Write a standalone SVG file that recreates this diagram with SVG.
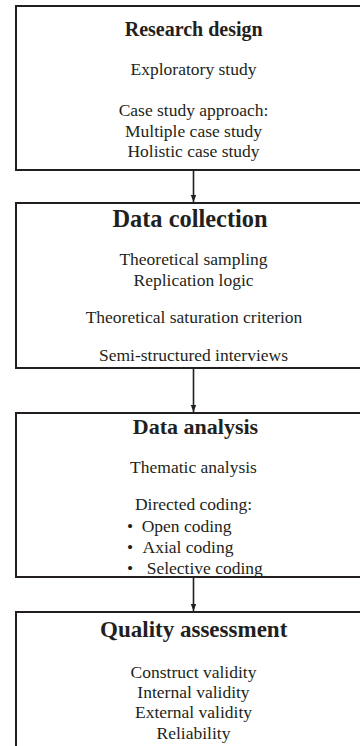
<svg xmlns="http://www.w3.org/2000/svg" width="360" height="746" viewBox="0 0 360 746">
<defs>
<marker id="arr" markerWidth="7" markerHeight="9" refX="9" refY="3.5" orient="auto" markerUnits="userSpaceOnUse" viewBox="0 0 9 7">
<path d="M0,0 L9,3.5 L0,7 Z" fill="#231f20"/>
</marker>
</defs>
<style>
.box{fill:#fff;stroke:#231f20;stroke-width:2}
.t{font-family:"Liberation Serif","Times New Roman",serif;fill:#231f20;text-anchor:middle}
.h{font-weight:bold}
.b{font-size:17.5px}
.bl{font-family:"Liberation Serif","Times New Roman",serif;fill:#231f20;font-size:17.5px}
.c{stroke:#231f20;stroke-width:1.6;fill:none}
</style>
<rect width="360" height="746" fill="#fff"/>
<g id="connectors">
<line class="c" x1="193.5" y1="170" x2="193.5" y2="202" marker-end="url(#arr)"/>
<line class="c" x1="193.5" y1="368" x2="193.5" y2="412" marker-end="url(#arr)"/>
<line class="c" x1="193.5" y1="577" x2="193.5" y2="611" marker-end="url(#arr)"/>
</g>
<g id="research-design">
<rect class="box" x="16" y="6" width="356" height="164"/>
<text class="t h" x="193.7" y="36" font-size="20">Research design</text>
<text class="t b" x="193.5" y="75">Exploratory study</text>
<text class="t b" x="193.5" y="116">Case study approach:</text>
<text class="t b" x="193.5" y="136.7">Multiple case study</text>
<text class="t b" x="193.5" y="156.7">Holistic case study</text>
</g>
<g id="data-collection">
<rect class="box" x="16" y="203" width="356" height="165"/>
<text class="t h" x="190" y="227.3" font-size="24.4">Data collection</text>
<text class="t b" x="193.5" y="265">Theoretical sampling</text>
<text class="t b" x="193.5" y="286">Replication logic</text>
<text class="t b" x="194" y="323.3">Theoretical saturation criterion</text>
<text class="t b" x="193.5" y="360.7">Semi-structured interviews</text>
</g>
<g id="data-analysis">
<rect class="box" x="16" y="413" width="356" height="164"/>
<text class="t h" x="195.5" y="434" font-size="22">Data analysis</text>
<text class="t b" x="193.5" y="472.7">Thematic analysis</text>
<text class="t b" x="193.5" y="510">Directed coding:</text>
<text class="bl" x="127" y="531.7">•</text>
<text class="bl" x="141.7" y="531.7">Open coding</text>
<text class="bl" x="127" y="552.7">•</text>
<text class="bl" x="142.5" y="552.7">Axial coding</text>
<text class="bl" x="127" y="574">•</text>
<text class="bl" x="146.7" y="574">Selective coding</text>
</g>
<g id="quality-assessment">
<rect class="box" x="16" y="612" width="356" height="150"/>
<text class="t h" x="193.7" y="637.3" font-size="23">Quality assessment</text>
<text class="t b" x="193.5" y="678.3">Construct validity</text>
<text class="t b" x="193.5" y="698.3">Internal validity</text>
<text class="t b" x="193.5" y="718.3">External validity</text>
<text class="t b" x="193.5" y="739.3">Reliability</text>
</g>
</svg>
